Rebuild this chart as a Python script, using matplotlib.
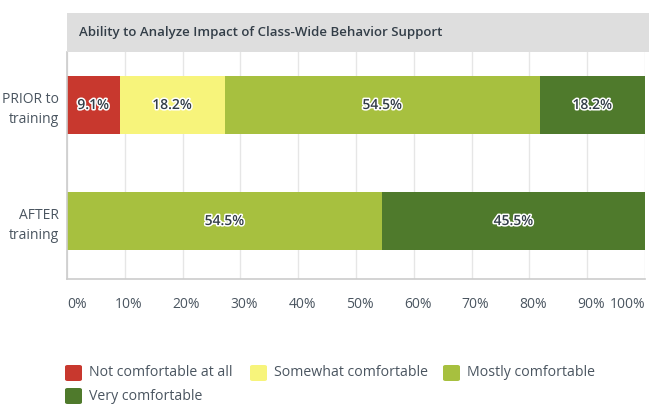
import matplotlib
matplotlib.use("Agg")
import matplotlib.pyplot as plt
import matplotlib.patheffects as pe
from matplotlib.patches import FancyBboxPatch, Rectangle
from matplotlib.transforms import ScaledTranslation

plt.rcParams['font.family'] = ['Open Sans', 'DejaVu Sans']

title = "Ability to Analyze Impact of Class-Wide Behavior Support"
groups = ["PRIOR to\ntraining", "AFTER\ntraining"]
categories = ["Not comfortable at all", "Somewhat comfortable", "Mostly comfortable", "Very comfortable"]
colors = ["#C8382E", "#F7F47B", "#A7C03F", "#4F7A2C"]
values = {
    "Not comfortable at all": [9.1, 0.0],
    "Somewhat comfortable": [18.2, 0.0],
    "Mostly comfortable": [54.5, 54.5],
    "Very comfortable": [18.2, 45.5],
}
xticks = [0, 10, 20, 30, 40, 50, 60, 70, 80, 90, 100]
xticklabels = [f"{t}%" for t in xticks]

W, H = 649, 408
fig = plt.figure(figsize=(W / 100, H / 100), dpi=100)
fig.patch.set_facecolor("white")

x0, x1 = 67, 645
ytop, ybot = 52, 279
ax = fig.add_axes([x0 / W, 1 - ybot / H, (x1 - x0) / W, (ybot - ytop) / H])
ax.set_xlim(0, 100)
ax.set_ylim(1.5, -0.457)

# title band
fig.patches.append(Rectangle((x0 / W, 1 - ytop / H), (W - x0) / W, 39 / H,
                             transform=fig.transFigure, facecolor="#DEDEDE",
                             edgecolor="none"))
fig.text((x0 + 12) / W, 1 - 32.5 / H, title, fontsize=9.5, fontweight="semibold",
         color="#333E48", va="center", ha="left")

# grid
for t in xticks:
    ax.axvline(t, color="#E6E6E6", lw=1, zorder=0)

bar_h = 0.5
for gi, g in enumerate(groups):
    left = 0.0
    for ci, c in enumerate(categories):
        v = values[c][gi]
        if v > 0:
            ax.barh(gi, v, left=left, height=bar_h, color=colors[ci], edgecolor="none", zorder=2)
            txt = ax.text(left + v / 2, gi, f"{v}%", ha="center", va="center",
                          fontsize=10, fontweight="semibold", color="#333E48", zorder=3)
            txt.set_path_effects([pe.withStroke(linewidth=2.2, foreground="white")])
        left += v

for s in ["top", "right"]:
    ax.spines[s].set_visible(False)
ax.spines["left"].set_color("#CCCCCC")
ax.spines["bottom"].set_color("#CCCCCC")
ax.spines["left"].set_linewidth(1.2)
ax.spines["bottom"].set_linewidth(1.2)

ax.set_yticks(range(len(groups)))
ax.set_yticklabels(groups, fontsize=10, color="#4A5560", linespacing=1.45, ha="right")
ax.tick_params(axis="y", length=0, pad=6)
ax.set_xticks(xticks)
ax.set_xticklabels(xticklabels, fontsize=10, color="#4A5560")
ax.tick_params(axis="x", length=0, pad=13)
labs = ax.get_xticklabels()
for i, lab in enumerate(labs):
    if i == 0:
        lab.set_ha("left")
    elif i == len(labs) - 1:
        lab.set_ha("right")
    else:
        lab.set_transform(lab.get_transform() + ScaledTranslation(4 / 100, 0, fig.dpi_scale_trans))

# legend (manual)
leg_pos = [(65, 373), (250, 373), (443, 373), (65, 396)]
for (lx, ly), c, col in zip(leg_pos, categories, colors):
    fig.patches.append(FancyBboxPatch(((lx) / W, 1 - (ly + 8) / H), 17 / W, 16 / H,
                                      boxstyle="round,pad=0,rounding_size=0.004",
                                      transform=fig.transFigure, facecolor=col,
                                      edgecolor="none"))
    fig.text((lx + 24) / W, 1 - ly / H, c, fontsize=10.2, color="#4A5560",
             va="center", ha="left")

fig.savefig("out.png", dpi=100, facecolor="white")
